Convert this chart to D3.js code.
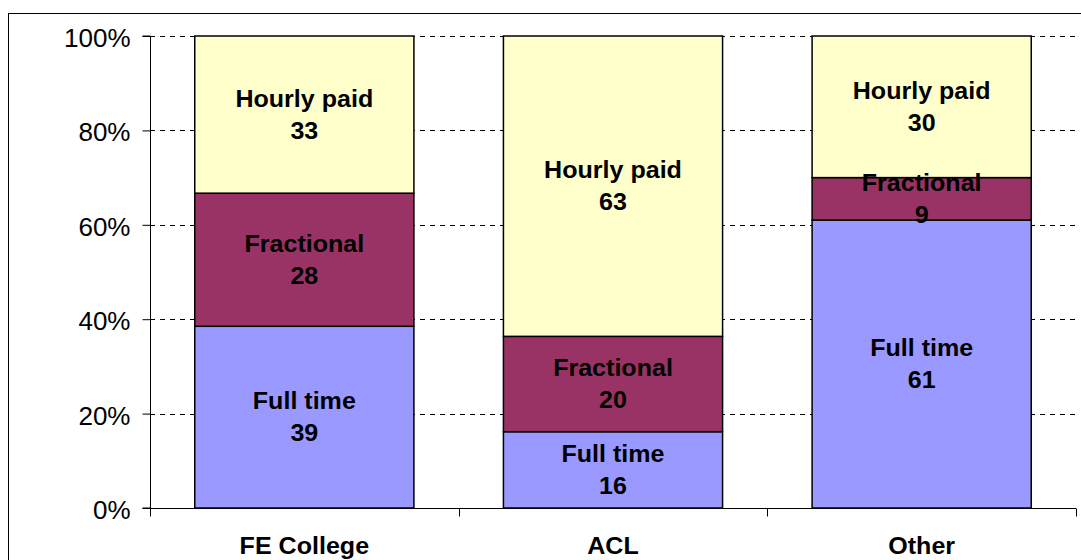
<!DOCTYPE html>
<html><head><meta charset="utf-8">
<script src="https://cdn.jsdelivr.net/npm/d3@7"></script>
<style>body{margin:0;background:#fff}svg{display:block}</style>
</head><body>
<svg id="c" width="1081" height="560"></svg>
<script>
const categories = ["FE College", "ACL", "Other"];
const seriesNames = ["Full time", "Fractional", "Hourly paid"];
const fullTime = [38.5, 16, 61];
const fractional = [28.2, 20, 9];
const hourlyPaid = [33.3, 63, 30];
const yTicks = [0, 0.2, 0.4, 0.6, 0.8, 1.0];
const colors = ["#9999FF", "#993366", "#FFFFCC"];

(function () {
const rows = categories.map((c, i) => ({cat: c, "Full time": fullTime[i], "Fractional": fractional[i], "Hourly paid": hourlyPaid[i]}));
const svg = d3.select("#c");
const FONT = "Liberation Sans, Arial, sans-serif";
const SX = 1.09;
svg.append("rect").attr("x", 8.5).attr("y", 13.5).attr("width", 1090).attr("height", 560)
  .attr("fill", "none").attr("stroke", "#000").attr("stroke-width", 1);

const pl = 150, pr = 1076, pt = 36, pb = 508;
const x = d3.scaleBand().domain(categories).range([pl, pr]).paddingInner(0.29).paddingOuter(0.145);
const y = d3.scaleLinear().domain([0, 1]).range([pb, pt]);

// gridlines
svg.append("g").selectAll("line").data(yTicks.filter(t => t > 0)).join("line")
  .attr("x1", pl).attr("x2", pr).attr("y1", d => Math.round(y(d)) + 0.5).attr("y2", d => Math.round(y(d)) + 0.5)
  .attr("stroke", "#000").attr("stroke-dasharray", "5,5").attr("stroke-width", 1);

const stack = d3.stack().keys(seriesNames).offset(d3.stackOffsetExpand);
const layers = stack(rows);
const fmt = d3.format(".0f");

const g = svg.append("g");
layers.forEach((layer, li) => {
  g.selectAll(null).data(layer).join("rect")
    .attr("x", d => x(d.data.cat)).attr("width", x.bandwidth())
    .attr("y", d => y(d[1])).attr("height", d => y(d[0]) - y(d[1]))
    .attr("fill", colors[li]).attr("stroke", "#000").attr("stroke-width", 1.5);
});
layers.forEach((layer, li) => {
  layer.forEach(d => {
    const cx = x(d.data.cat) + x.bandwidth() / 2;
    const cy = (y(d[0]) + y(d[1])) / 2;
    const t = g.append("text").attr("text-anchor", "middle")
      .attr("transform", `translate(${cx},${cy}) scale(${SX},1)`)
      .attr("font-family", FONT).attr("font-weight", "bold").attr("font-size", 23).attr("fill", "#000");
    t.append("tspan").attr("x", 0).attr("y", -8).text(layer.key);
    t.append("tspan").attr("x", 0).attr("y", 24).text(fmt(d.data[layer.key]));
  });
});

// y axis
const yAxis = d3.axisLeft(y).tickValues(yTicks).tickFormat(d3.format(".0%")).tickSize(8).tickPadding(12);
const ya = svg.append("g").attr("transform", `translate(${pl + 0.5},0)`).call(yAxis);
ya.select(".domain").attr("stroke", "#000").attr("d", `M-8,${pt}H0V${pb}H-8`);
ya.selectAll(".tick line").attr("stroke", "#000");
ya.selectAll("text").attr("font-family", FONT).attr("font-size", 26).attr("fill", "#000").attr("dy", "0.4em");

// x axis
const xa = svg.append("g").attr("transform", `translate(0,${pb + 0.5})`);
xa.append("line").attr("x1", pl).attr("x2", pr).attr("stroke", "#000");
const bounds = d3.range(categories.length + 1).map(i => pl + i * (pr - pl) / categories.length);
xa.selectAll(".bt").data(bounds).join("line").attr("class", "bt")
  .attr("x1", d => Math.round(d) + 0.5).attr("x2", d => Math.round(d) + 0.5).attr("y1", 0).attr("y2", 8).attr("stroke", "#000");
xa.selectAll(".xl").data(categories).join("text").attr("class", "xl")
  .attr("transform", d => `translate(${x(d) + x.bandwidth() / 2},45) scale(${SX},1)`)
  .attr("text-anchor", "middle")
  .attr("font-family", FONT).attr("font-weight", "bold").attr("font-size", 23).text(d => d);
})();
</script>
</body></html>
